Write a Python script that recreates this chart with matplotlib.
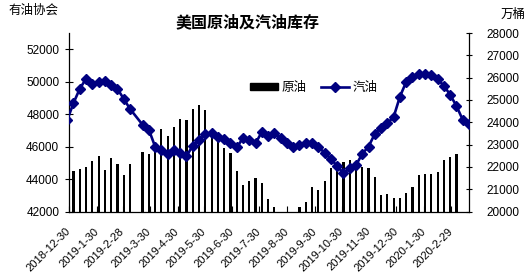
import numpy as np
import pandas as pd
import matplotlib
matplotlib.use("Agg")
import matplotlib.pyplot as plt
from matplotlib.patches import Patch
from matplotlib.lines import Line2D

plt.rcParams['font.family'] = ['Liberation Sans', 'Noto Sans CJK SC', 'DejaVu Sans']

# weekly dates (week of 2019-03-15 missing in the source)
dates = pd.date_range("2018-12-28", "2020-03-20", freq="7D")
dates = dates[dates != pd.Timestamp("2019-03-15")]

crude = [np.nan,
         44510, 44630, 44760, 45090, 45430, 44560, 45300, 44920, 44260, 44930,
         45670, 45540, 45840, 47070, 46660, 47200, 47690, 47640, 48320, 48580,
         48270, 46860, 46410, 45900, 45590, 44500, 43640, 43880, 44070, 43760, 42750,
         42300, 41700, 41800, 41600, 42280, 42570, 43510, 43330, 43880,
         44670, 44870, 45060, 45160, 44810, 44730, 44700, 44150, 42990, 43080,
         42850, 42850, 43160, 43530, 44250, 44300, 44310, 44440, 45200, 45360, 45550,
         np.nan, np.nan]

gasoline = [24100,
            24860, 25500, 25950, 25710, 25800, 25830, 25680, 25500, 25050, 24600,
            23890, 23670, 22910, 22750, 22590, 22750, 22620, 22480, 22950, 23200,
            23466, 23525, 23345, 23229, 23076, 22870, 23287, 23197, 23049, 23570, 23377,
            23525, 23274, 23076, 22870, 22973, 23049, 23076, 22897, 22628, 22360,
            22031, 21720, 21928, 22076, 22585, 22910,
            23480, 23760, 23946, 24242, 25150, 25812, 26050, 26157, 26157, 26112,
            25919, 25640, 25230, 24730, 24110, 23930]

tick_dates = ["2018-12-30", "2019-01-30", "2019-02-28", "2019-03-30", "2019-04-30",
              "2019-05-30", "2019-06-30", "2019-07-30", "2019-08-30", "2019-09-30",
              "2019-10-30", "2019-11-30", "2019-12-30", "2020-01-30", "2020-02-29"]
tick_labels = ["2018-12-30", "2019-1-30", "2019-2-28", "2019-3-30", "2019-4-30",
               "2019-5-30", "2019-6-30", "2019-7-30", "2019-8-30", "2019-9-30",
               "2019-10-30", "2019-11-30", "2019-12-30", "2020-1-30", "2020-2-29"]

title = "美国原油及汽油库存"
left_unit = "有油协会"
right_unit = "万桶"
series_names = ["原油", "汽油"]

W, H = 528, 280
fig = plt.figure(figsize=(W / 100, H / 100), dpi=100)
ax = fig.add_axes([69 / W, (H - 211.5) / H, 400 / W, (211.5 - 33) / H])
ax2 = ax.twinx()

navy = "#000080"
ax.bar(dates, crude, width=2.4, color="black", zorder=2)
ax2.plot(dates, gasoline, color=navy, lw=1.9, marker="D", markersize=5.2,
         markerfacecolor=navy, markeredgecolor=navy, zorder=3)

ax.set_xlim(pd.Timestamp("2018-12-30"), pd.Timestamp("2020-03-20"))
ax.set_ylim(42000, 53000)
ax2.set_ylim(20000, 28000)
ax.set_yticks(np.arange(42000, 52001, 2000))
ax2.set_yticks(np.arange(20000, 28001, 1000))

tds = pd.to_datetime(tick_dates)
ax.set_xticks(tds)
ax.set_xticklabels(tick_labels, rotation=45, ha="right", va="center",
                   rotation_mode="anchor", fontsize=8)
ax.tick_params(axis="x", direction="in", length=4.5, width=0.8, pad=13)
ax.tick_params(axis="y", direction="inout", length=6, width=0.8, labelsize=8.5, pad=4)
ax2.tick_params(axis="y", direction="inout", length=5, width=0.8, labelsize=8.5, pad=10)

for a in (ax, ax2):
    a.spines["top"].set_visible(False)
    for s in ("left", "right", "bottom"):
        a.spines[s].set_linewidth(0.9)
        a.spines[s].set_color("black")
ax.spines["right"].set_visible(False)
ax2.spines["left"].set_visible(False)
ax2.spines["bottom"].set_visible(False)
ax.set_facecolor("none")

fig.text(247 / W, 1 - 22 / H, title, ha="center", va="center",
         fontsize=11.5, fontweight="bold")
fig.text(8 / W, 1 - 11 / H, left_unit, ha="left", va="center", fontsize=9)
fig.text(526 / W, 1 - 15 / H, right_unit, ha="right", va="center", fontsize=9)

handles = [Patch(facecolor="black", edgecolor="black"),
           Line2D([], [], color=navy, lw=1.9, marker="D", markersize=5.2,
                  markerfacecolor=navy)]
fig.legend(handles, series_names, loc="center left",
           bbox_to_anchor=(250 / W, 1 - 88 / H), ncol=2, frameon=False,
           fontsize=9, handlelength=2.2, handleheight=0.55, handletextpad=0.3,
           columnspacing=1.2, borderpad=0, borderaxespad=0)

fig.savefig("out.png", dpi=100)
